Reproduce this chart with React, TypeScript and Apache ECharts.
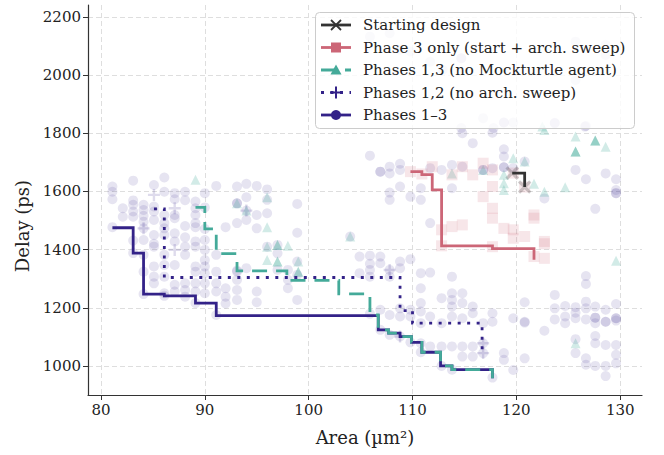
import React, { useEffect, useRef } from "react";
import * as echarts from "echarts";

const FONT = "DejaVu Serif";
const PURPLE = "#332288";
const TEAL = "#44AA99";
const ROSE = "#CC6677";
const DARK = "#333333";

const AREA_TICKS = [80, 90, 100, 110, 120, 130];
const DELAY_TICKS = [1000, 1200, 1400, 1600, 1800, 2000, 2200];

const legendLabels = [
  "Starting design",
  "Phase 3 only (start + arch. sweep)",
  "Phases 1,3 (no Mockturtle agent)",
  "Phases 1,2 (no arch. sweep)",
  "Phases 1\u20133",
];

// Pareto fronts (area µm², delay ps)
const startingLine = [[119.6, 1663], [120.8, 1615]];
const phase3OnlyLine = [[109.8, 1668], [110.9, 1658], [111.9, 1605], [112.8, 1413], [117.7, 1403], [121.7, 1365]];
const phases13Line = [[89.1, 1545], [90.0, 1471], [91.1, 1386], [93.1, 1327], [97.9, 1294], [102.9, 1248], [105.9, 1175], [106.7, 1124], [107.7, 1113], [108.8, 1101], [109.9, 1081], [110.9, 1047], [112.7, 1000], [113.8, 987], [117.7, 958]];
const phases12Line = [[85.1, 1540], [86.1, 1304], [108.8, 1190], [110.0, 1147], [116.7, 1045]];
const allPhasesLine = [[81.1, 1475], [83.1, 1388], [84.1, 1247], [86.1, 1241], [89.1, 1216], [91.1, 1173], [106.7, 1124], [107.7, 1113], [108.8, 1101], [109.9, 1081], [110.9, 1047], [112.7, 1000], [113.8, 987], [117.7, 958]];

// All explored designs
const startingPoints = [[119.6, 1663], [120.8, 1615]];
const phase3OnlyPoints = [[109.8, 1668], [110.9, 1660], [111.9, 1685], [113.8, 1657], [114.8, 1685], [115.8, 1657], [116.8, 1697], [117.7, 1674], [116.8, 1582], [117.7, 1617], [112.8, 1468], [113.8, 1479], [114.8, 1485], [117.7, 1542], [117.7, 1508], [118.8, 1473], [119.7, 1468], [119.7, 1439], [120.8, 1445], [117.7, 1410], [112.8, 1413], [121.7, 1519], [121.7, 1508], [122.7, 1428], [122.7, 1420], [122.7, 1370], [121.7, 1376], [119.7, 1663], [120.8, 1615]];
const phases13Points = [[89.1, 1640], [93.1, 1559], [94.0, 1534], [96.0, 1580], [96.0, 1477], [96.0, 1410], [96.0, 1364], [97.0, 1416], [97.0, 1416], [97.0, 1359], [97.0, 1359], [98.0, 1413], [99.0, 1359], [99.0, 1324], [99.0, 1324], [104.0, 1445], [113.8, 1662], [116.8, 1674], [118.8, 1657], [118.8, 1628], [118.8, 1605], [119.7, 1714], [120.8, 1703], [121.7, 1626], [122.5, 1823], [122.7, 1811], [122.7, 1599], [124.7, 1614], [125.7, 1789], [125.7, 1737], [125.7, 1737], [125.7, 1737], [125.7, 1078], [127.6, 1775], [127.6, 1775], [127.6, 1775], [128.6, 1754], [129.6, 1362]];
const phases12Points = [[85.1, 1588], [87.1, 1542], [87.1, 1399], [94.0, 1534], [107.8, 1330], [116.8, 1044], [116.8, 1078], [84.1, 1473], [108.8, 1101]];
const allPhasesPoints = [
  [81.1, 1617], [81.1, 1599], [81.1, 1573], [81.1, 1477],
  [82.1, 1542], [82.1, 1513],
  [83.1, 1637], [83.1, 1569], [83.1, 1554], [83.1, 1531], [83.1, 1513], [83.1, 1431], [83.1, 1388],
  [84.1, 1554], [84.1, 1536], [84.1, 1516], [84.1, 1496], [84.1, 1473], [84.1, 1433], [84.1, 1382], [84.1, 1324], [84.1, 1247],
  [85.1, 1622], [85.1, 1548], [85.1, 1531], [85.1, 1502], [85.1, 1450], [85.1, 1420], [85.1, 1410], [85.1, 1342], [85.1, 1307], [85.1, 1284],
  [86.1, 1648], [86.1, 1599], [86.1, 1519], [86.1, 1491], [86.1, 1473], [86.1, 1450], [86.1, 1382], [86.1, 1347], [86.1, 1307], [86.1, 1250], [86.1, 1241],
  [87.1, 1594], [87.1, 1573], [87.1, 1519], [87.1, 1508], [87.1, 1456], [87.1, 1428], [87.1, 1347], [87.1, 1279], [87.1, 1256],
  [88.1, 1599], [88.1, 1570], [88.1, 1481], [88.1, 1442], [88.1, 1410], [88.1, 1382], [88.1, 1284], [88.1, 1261], [88.1, 1238],
  [89.1, 1565], [89.1, 1542], [89.1, 1519], [89.1, 1491], [89.1, 1477], [89.1, 1428], [89.1, 1410], [89.1, 1342], [89.1, 1324], [89.1, 1284], [89.1, 1256], [89.1, 1216],
  [90.0, 1594], [90.0, 1545], [90.0, 1433], [90.0, 1399], [90.0, 1364], [90.0, 1342], [90.0, 1319], [90.0, 1284], [90.0, 1250], [90.0, 1471],
  [91.1, 1619], [91.1, 1382], [91.1, 1324], [91.1, 1284], [91.1, 1256], [91.1, 1175],
  [92.0, 1477], [92.0, 1267], [92.0, 1238], [92.0, 1215],
  [93.1, 1617], [93.1, 1559], [93.1, 1559], [93.1, 1491], [93.1, 1324], [93.1, 1296], [93.1, 1261], [93.1, 1227], [93.1, 1328],
  [94.0, 1626], [94.0, 1580], [94.0, 1534], [94.0, 1502], [94.0, 1336],
  [95.0, 1619], [95.0, 1519], [95.0, 1473], [95.0, 1256], [95.0, 1219],
  [96.0, 1607], [96.0, 1525], [96.0, 1571], [96.0, 1410],
  [97.0, 1387], [97.0, 1330], [97.0, 1416],
  [98.0, 1330], [98.0, 1296], [98.0, 1267],
  [98.9, 1557], [98.9, 1458], [98.9, 1313], [98.9, 1227], [98.9, 1359],
  [104.0, 1445], [104.9, 1376], [104.9, 1319],
  [105.9, 1723], [105.9, 1379], [105.9, 1351], [105.9, 1330], [105.9, 1307], [105.9, 1179],
  [106.9, 1668], [106.9, 1668], [106.9, 1376], [106.9, 1353], [106.9, 1193], [106.9, 1124],
  [107.8, 1685], [107.8, 1662], [107.8, 1596], [107.8, 1571], [107.8, 1330], [107.8, 1307], [107.8, 1175], [107.8, 1107],
  [108.8, 1695], [108.8, 1674], [108.8, 1617], [108.8, 1359], [108.8, 1336], [108.8, 1198], [108.8, 1170], [108.8, 1101],
  [109.8, 1582], [109.8, 1367], [109.8, 1193], [109.8, 1170], [109.8, 1081],
  [110.8, 1611], [110.8, 1571], [110.8, 1319], [110.8, 1267], [110.8, 1216], [110.8, 1187], [110.8, 1147], [110.8, 1078], [110.8, 1047],
  [111.7, 1680], [111.7, 1491], [111.7, 1321], [111.7, 1170], [111.7, 1067],
  [112.8, 1674], [112.8, 1233], [112.8, 1147], [112.8, 1067], [112.8, 1000],
  [113.8, 1691], [113.8, 1611], [113.8, 1307], [113.8, 1250], [113.8, 1227], [113.8, 1204], [113.8, 1170], [113.8, 1067], [113.8, 987],
  [114.8, 1800], [114.8, 1685], [114.8, 1250], [114.8, 1216], [114.8, 1164], [114.8, 1067], [114.8, 1032],
  [115.8, 1766], [115.8, 1204], [115.8, 1181], [115.8, 1067], [115.8, 1032],
  [116.8, 1852], [116.8, 1674], [116.8, 1674], [116.8, 1147], [116.8, 1078], [116.8, 1044],
  [117.7, 1802], [117.7, 1680], [117.7, 1181], [117.7, 1152], [117.7, 960],
  [118.8, 1837], [118.8, 1837], [118.8, 1745], [118.8, 1720], [118.8, 1683], [118.8, 1683], [118.8, 1044], [118.8, 1021],
  [119.7, 1837], [119.7, 1680], [119.7, 1164], [119.7, 986],
  [120.8, 1703], [120.8, 1219], [120.8, 1152], [120.8, 1149], [120.8, 1026],
  [122.7, 1576], [122.7, 1121],
  [123.7, 1834], [123.7, 1244], [123.7, 1198], [123.7, 1160],
  [124.7, 1206], [124.7, 1170], [124.7, 1147],
  [125.7, 1674], [125.7, 1202], [125.7, 1183], [125.7, 1164], [125.7, 1092], [125.7, 1044],
  [126.7, 1825], [126.7, 1642], [126.7, 1309], [126.7, 1282], [126.7, 1221], [126.7, 1198], [126.7, 1160], [126.7, 1026], [126.7, 1004],
  [127.6, 1540], [127.6, 1204], [127.6, 1166], [127.6, 1166], [127.6, 1147], [127.6, 1103], [127.6, 1078], [127.6, 1000],
  [128.6, 1662], [128.6, 1193], [128.6, 1152], [128.6, 1152], [128.6, 1072], [128.6, 1000], [128.6, 965],
  [129.6, 1642], [129.6, 1605], [129.6, 1594], [129.6, 1594], [129.6, 1213], [129.6, 1164], [129.6, 1164], [129.6, 1156], [129.6, 1072], [129.6, 1038], [129.6, 1009],
  [105.9, 2132], [107.8, 2144], [108.8, 2087], [109.8, 2081], [111.7, 2046], [114.7, 2058], [114.7, 2058], [112.9, 2018], [125.7, 2115], [125.7, 1983], [128.6, 2104], [128.6, 2069], [114.7, 1818], [117.8, 1818], [123.7, 1836], [126.6, 1823],
];

const PLUS = "path://M4,0H6V4H10V6H6V10H4V6H0V4H4Z";

function scatter(data: number[][], symbol: string, size: number, color: string, rotate = 0) {
  return {
    type: "scatter",
    data,
    symbol,
    symbolSize: size,
    symbolRotate: rotate,
    itemStyle: { color },
    silent: true,
    z: 1,
  };
}

function stepLine(data: number[][], color: string, type: any, z: number) {
  return {
    type: "line",
    data,
    step: "end",
    symbol: "none",
    silent: true,
    z,
    lineStyle: { color, width: 2.8, type, cap: "butt", join: "miter" },
  };
}

function legendGraphic() {
  const rowsY = [25, 47.5, 70, 92.5, 115];
  const x1 = 321, x2 = 351, cx = 336, tx = 363;
  const els: any[] = [
    {
      type: "rect",
      shape: { x: 315.5, y: 12.5, width: 319, height: 116, r: 4 },
      style: { fill: "rgba(255,255,255,0.8)", stroke: "#cccccc", lineWidth: 1 },
      z: 100,
    },
  ];
  const styles = [
    { color: DARK, dash: null },
    { color: ROSE, dash: null },
    { color: TEAL, dash: [15, 9] },
    { color: PURPLE, dash: [3, 6.5] },
    { color: PURPLE, dash: null },
  ];
  rowsY.forEach((y, i) => {
    const s = styles[i];
    els.push({
      type: "line",
      shape: { x1, y1: y, x2, y2: y },
      style: { stroke: s.color, lineWidth: 2.8, lineDash: s.dash || undefined },
      z: 101,
    });
    els.push({
      type: "text",
      x: tx,
      y,
      style: { text: legendLabels[i], font: `15px '${FONT}'`, fill: "#222222", verticalAlign: "middle", align: "left" },
      z: 101,
    });
  });
  els.push({ type: "line", shape: { x1: cx - 5, y1: rowsY[0] - 5, x2: cx + 5, y2: rowsY[0] + 5 }, style: { stroke: DARK, lineWidth: 1.8 }, z: 102 });
  els.push({ type: "line", shape: { x1: cx - 5, y1: rowsY[0] + 5, x2: cx + 5, y2: rowsY[0] - 5 }, style: { stroke: DARK, lineWidth: 1.8 }, z: 102 });
  els.push({ type: "rect", shape: { x: cx - 5, y: rowsY[1] - 5, width: 10, height: 10 }, style: { fill: ROSE }, z: 102 });
  els.push({ type: "polygon", shape: { points: [[cx, rowsY[2] - 5.5], [cx + 5.5, rowsY[2] + 4.5], [cx - 5.5, rowsY[2] + 4.5]] }, style: { fill: TEAL }, z: 102 });
  els.push({ type: "line", shape: { x1: cx - 6, y1: rowsY[3], x2: cx + 6, y2: rowsY[3] }, style: { stroke: PURPLE, lineWidth: 2 }, z: 102 });
  els.push({ type: "line", shape: { x1: cx, y1: rowsY[3] - 6, x2: cx, y2: rowsY[3] + 6 }, style: { stroke: PURPLE, lineWidth: 2 }, z: 102 });
  els.push({ type: "circle", shape: { cx, cy: rowsY[4], r: 5 }, style: { fill: PURPLE }, z: 102 });
  // y-axis title
  els.push({
    type: "text",
    x: 22,
    y: 226,
    rotation: Math.PI / 2,
    style: { text: "Delay (ps)", font: `18px '${FONT}'`, fill: "#222222", align: "center", verticalAlign: "middle" },
    z: 50,
  });
  return els;
}

export default function App() {
  const ref = useRef<HTMLDivElement>(null);
  useEffect(() => {
    if (!ref.current) return;
    const chart = echarts.init(ref.current, null, { renderer: "svg" });
    const axisCommon = {
      type: "value",
      nameLocation: "middle",
      nameTextStyle: { fontFamily: FONT, fontSize: 18, fontWeight: "normal", color: "#222222" },
      axisLine: { show: true, onZero: false, lineStyle: { color: "#333333", width: 1.2 } },
      splitLine: { show: true, lineStyle: { color: "#dedede", width: 1, type: [5, 3] } },
    };
    const plain = (v: number) => String(v);
    chart.setOption({
      animation: false,
      grid: { left: 88, right: 22, top: 5, bottom: 60, containLabel: false },
      xAxis: {
        ...axisCommon,
        min: 78.75,
        max: 132.1,
        name: "Area (\u00b5m\u00b2)",
        nameGap: 33,
        axisTick: { show: true, inside: false, length: 5, customValues: AREA_TICKS, lineStyle: { color: "#333333", width: 1 } },
        axisLabel: { customValues: AREA_TICKS, formatter: plain, fontFamily: FONT, fontSize: 15, color: "#222222", margin: 7 },
      },
      yAxis: {
        ...axisCommon,
        min: 900,
        max: 2241,
        axisTick: { show: true, inside: false, length: 5, customValues: DELAY_TICKS, lineStyle: { color: "#333333", width: 1 } },
        axisLabel: { customValues: DELAY_TICKS, formatter: plain, fontFamily: FONT, fontSize: 15, color: "#222222", margin: 7 },
      },
      series: [
        scatter(allPhasesPoints, "circle", 10, "rgba(51,34,136,0.15)"),
        scatter(phases12Points, PLUS, 12, "rgba(51,34,136,0.2)"),
        scatter(phases13Points, "triangle", 10, "rgba(68,170,153,0.3)"),
        scatter(phase3OnlyPoints, "rect", 11, "rgba(204,102,119,0.2)"),
        scatter(startingPoints, PLUS, 16, "rgba(60,60,60,0.3)", 45),
        stepLine(allPhasesLine, PURPLE, "solid", 3),
        stepLine(phases13Line, TEAL, [15, 9], 4),
        stepLine(phases12Line, PURPLE, [3, 6.5], 5),
        stepLine(phase3OnlyLine, ROSE, "solid", 6),
        stepLine(startingLine, DARK, "solid", 7),
      ],
      graphic: legendGraphic(),
    });
    return () => chart.dispose();
  }, []);
  return (
    <div
      ref={ref}
      style={{ position: "fixed", left: 0, top: 0, width: 664, height: 455, background: "#ffffff" }}
    />
  );
}
